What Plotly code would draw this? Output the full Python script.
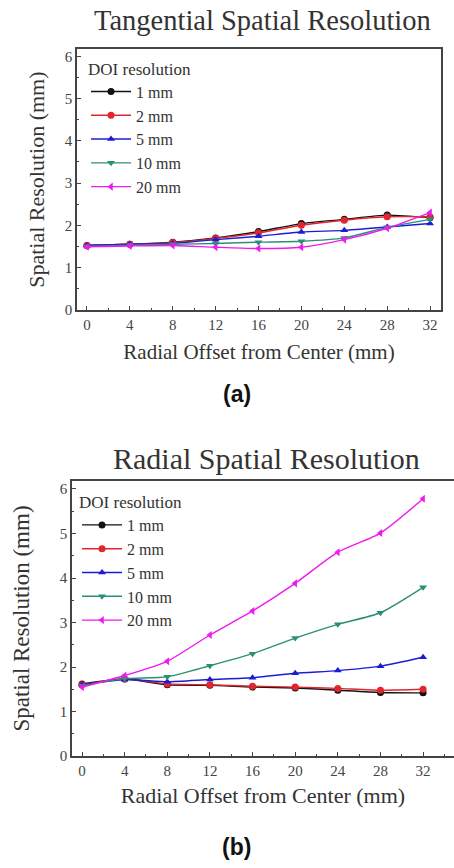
import plotly.graph_objects as go

offsets = [0, 4, 8, 12, 16, 20, 24, 28, 32]
doi_labels = ["1 mm", "2 mm", "5 mm", "10 mm", "20 mm"]

tang_1mm = [1.52, 1.55, 1.60, 1.70, 1.85, 2.04, 2.14, 2.24, 2.18]
tang_2mm = [1.52, 1.55, 1.59, 1.69, 1.82, 2.00, 2.12, 2.20, 2.20]
tang_5mm = [1.52, 1.55, 1.57, 1.66, 1.74, 1.84, 1.88, 1.96, 2.04]
tang_10mm = [1.50, 1.53, 1.55, 1.57, 1.60, 1.62, 1.70, 1.95, 2.14]
tang_20mm = [1.49, 1.51, 1.52, 1.48, 1.45, 1.48, 1.66, 1.93, 2.30]

rad_1mm = [1.62, 1.73, 1.60, 1.59, 1.55, 1.53, 1.48, 1.43, 1.42]
rad_2mm = [1.60, 1.73, 1.62, 1.60, 1.57, 1.55, 1.52, 1.48, 1.50]
rad_5mm = [1.60, 1.72, 1.67, 1.72, 1.76, 1.86, 1.92, 2.02, 2.22]
rad_10mm = [1.58, 1.74, 1.78, 2.03, 2.30, 2.65, 2.96, 3.22, 3.79]
rad_20mm = [1.55, 1.81, 2.13, 2.72, 3.26, 3.88, 4.58, 5.01, 5.78]

x_ticks = [0, 4, 8, 12, 16, 20, 24, 28, 32]
y_ticks = [0, 1, 2, 3, 4, 5, 6]

colors = ["#111111", "#e0262e", "#1c1cd6", "#2b8f78", "#f019f0"]
symbols = ["circle", "circle", "triangle-up", "triangle-down", "triangle-left"]

W, H = 454, 868
SERIF = "Liberation Serif, Times New Roman, serif"

fig = go.Figure()

tang = [tang_1mm, tang_2mm, tang_5mm, tang_10mm, tang_20mm]
rad = [rad_1mm, rad_2mm, rad_5mm, rad_10mm, rad_20mm]

for i, lab in enumerate(doi_labels):
    fig.add_trace(go.Scatter(
        x=offsets, y=tang[i], name=lab, mode="lines+markers",
        line=dict(color=colors[i], width=1.4, shape="spline", smoothing=0.6),
        marker=dict(symbol=symbols[i], size=7, color=colors[i]),
        xaxis="x", yaxis="y", legend="legend"))
for i, lab in enumerate(doi_labels):
    fig.add_trace(go.Scatter(
        x=offsets, y=rad[i], name=lab, mode="lines+markers",
        line=dict(color=colors[i], width=1.4, shape="spline", smoothing=0.6),
        marker=dict(symbol=symbols[i], size=7, color=colors[i]),
        xaxis="x2", yaxis="y2", legend="legend2"))

def px_x(p):
    return p / W

def px_y(p):
    return 1 - p / H

axis_common = dict(
    showgrid=False, zeroline=False, showline=True, linecolor="#444444", linewidth=1.5,
    ticks="inside", ticklen=4, tickwidth=1, tickcolor="#444444",
    tickfont=dict(family=SERIF, size=15, color="#444444"),
)

tick_text = [str(v) for v in x_ticks]
ytick_text = [str(v) for v in y_ticks]

legend_common = dict(
    xanchor="left", yanchor="top", bgcolor="rgba(0,0,0,0)", borderwidth=0,
    itemwidth=40, tracegroupgap=0, itemclick=False,
    title=dict(text="DOI resolution", font=dict(family=SERIF, size=17, color="#333333")),
    font=dict(family=SERIF, size=16, color="#333333"),
)

fig.update_layout(
    width=W, height=H, margin=dict(l=0, r=0, t=0, b=0),
    paper_bgcolor="white", plot_bgcolor="white",
    showlegend=True,
    xaxis=dict(axis_common, domain=[px_x(77), px_x(441)], range=[-0.93, 33.02],
               tickvals=x_ticks, ticktext=tick_text, mirror=True, anchor="y",
               minor=dict(ticks="inside", ticklen=2, tickcolor="#444444", dtick=2, tick0=0),
               title=dict(text="Radial Offset from Center (mm)", standoff=13,
                          font=dict(family=SERIF, size=21, color="#333333"))),
    yaxis=dict(axis_common, domain=[px_y(312), px_y(49)], range=[0, 6.16],
               tickvals=y_ticks, ticktext=ytick_text, mirror=True, anchor="x",
               minor=dict(ticks="inside", ticklen=2, tickcolor="#444444", dtick=0.5, tick0=0),
               title=dict(text="Spatial Resolution (mm)", standoff=14,
                          font=dict(family=SERIF, size=22, color="#333333"))),
    xaxis2=dict(axis_common, domain=[px_x(72), 1.0], range=[-0.94, 34.9],
                tickvals=x_ticks, ticktext=tick_text, mirror=True, anchor="y2",
                minor=dict(ticks="inside", ticklen=2, tickcolor="#444444", dtick=2, tick0=0),
                title=dict(text="Radial Offset from Center (mm)", standoff=10,
                           font=dict(family=SERIF, size=22, color="#333333"))),
    yaxis2=dict(axis_common, domain=[px_y(763), px_y(485)], range=[0, 6.18],
                tickvals=y_ticks, ticktext=ytick_text, mirror=False, anchor="x2",
                minor=dict(ticks="inside", ticklen=2, tickcolor="#444444", dtick=0.5, tick0=0),
                title=dict(text="Spatial Resolution (mm)", standoff=24,
                           font=dict(family=SERIF, size=23, color="#333333"))),
    legend=dict(legend_common, x=px_x(86), y=px_y(52)),
    legend2=dict(legend_common, x=px_x(77), y=px_y(490)),
)

fig.add_annotation(text="Tangential Spatial Resolution", x=px_x(262), y=px_y(20),
                   xref="paper", yref="paper", showarrow=False, xanchor="center", yanchor="middle",
                   font=dict(family=SERIF, size=28.5, color="#333333"))
fig.add_annotation(text="Radial Spatial Resolution", x=px_x(266), y=px_y(462),
                   xref="paper", yref="paper", showarrow=False, xanchor="center", yanchor="middle",
                   font=dict(family=SERIF, size=30, color="#333333"))
fig.add_annotation(text="<b>(a)</b>", x=px_x(237), y=px_y(397),
                   xref="paper", yref="paper", showarrow=False, xanchor="center", yanchor="middle",
                   font=dict(family="Liberation Sans, Arial, sans-serif", size=23, color="#111111"))
fig.add_annotation(text="<b>(b)</b>", x=px_x(237), y=px_y(855),
                   xref="paper", yref="paper", showarrow=False, xanchor="center", yanchor="middle",
                   font=dict(family="Liberation Sans, Arial, sans-serif", size=23, color="#111111"))

fig.write_html("out.html")
